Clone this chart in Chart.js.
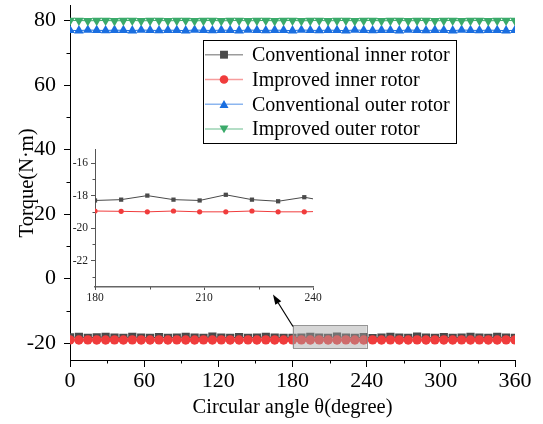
<!DOCTYPE html>
<html>
<head>
<meta charset="utf-8">
<script src="https://cdn.jsdelivr.net/npm/chart.js@4/dist/chart.umd.min.js"></script>
<style>
  html, body { margin: 0; padding: 0; background: #fff; }
  #wrap { position: relative; width: 543px; height: 424px; }
  #main { position: absolute; left: 0; top: 0; }
  #inset { position: absolute; left: 40px; top: 140px; }
</style>
</head>
<body>
<div id="wrap">
  <canvas id="main" width="543" height="424"></canvas>
  <canvas id="inset" width="290" height="170"></canvas>
</div>
<script>
// ---------------- data ----------------
const angles = [0,7.2,14.4,21.6,28.8,36,43.2,50.4,57.6,64.8,72,79.2,86.4,93.6,100.8,108,115.2,122.4,129.6,136.8,144,151.2,158.4,165.6,172.8,180,187.2,194.4,201.6,208.8,216,223.2,230.4,237.6,244.8,252,259.2,266.4,273.6,280.8,288,295.2,302.4,309.6,316.8,324,331.2,338.4,345.6,352.8,360];

const convInner = [-18.2,-18.05,-18.3,-18.2,-18.0,-18.25,-18.3,-18.0,-18.25,-18.35,-18.1,-18.3,-18.25,-18.0,-18.25,-18.3,-17.95,-18.25,-18.35,-18.1,-18.3,-18.25,-18.0,-18.25,-18.3,
  -18.3,-18.25,-18.0,-18.25,-18.3,-17.95,-18.25,-18.35,-18.1,-18.4,
  -18.25,-18.0,-18.25,-18.3,-17.95,-18.25,-18.35,-18.1,-18.3,-18.25,-18.0,-18.25,-18.3,-18.05,-18.25,-18.3];

const impInner = [-18.97,-19.0,-18.95,-18.98,-19.0,-18.96,-19.0,-18.95,-18.98,-19.0,-18.96,-19.0,-18.95,-18.99,-19.0,-18.96,-19.0,-18.95,-18.98,-19.0,-18.96,-19.0,-18.95,-18.98,-19.0,
  -18.95,-18.97,-19.0,-18.95,-19.0,-19.0,-18.95,-19.0,-19.0,
  -18.96,-19.0,-18.95,-18.98,-19.0,-18.96,-19.0,-18.95,-18.98,-19.0,-18.96,-19.0,-18.95,-18.98,-19.0,-18.96,-18.97];

const convOuter = [77.0,76.9,77.1,77.0,76.95,77.05,77.0,76.9,77.1,77.0,76.95,77.05,77.0,76.9,77.1,77.0,76.95,77.05,77.0,76.9,77.1,77.0,76.95,77.05,77.0,
  76.9,77.1,77.0,76.95,77.05,77.0,76.9,77.1,77.0,76.95,77.05,77.0,76.9,77.1,77.0,76.95,77.05,77.0,76.9,77.1,77.0,76.95,77.05,77.0,76.9,77.0];

const impOuter = [80.0,80.05,79.95,80.0,80.05,79.95,80.0,80.05,79.95,80.0,80.05,79.95,80.0,80.05,79.95,80.0,80.05,79.95,80.0,80.05,79.95,80.0,80.05,79.95,80.0,
  80.05,79.95,80.0,80.05,79.95,80.0,80.05,79.95,80.0,80.05,79.95,80.0,80.05,79.95,80.0,80.05,79.95,80.0,80.05,79.95,80.0,80.05,79.95,80.0,80.05,80.0];

const seriesNames = ['Conventional inner rotor','Improved inner rotor','Conventional outer rotor','Improved outer rotor'];

const xTicks = [0,60,120,180,240,300,360];
const xMinorTicks = [30,90,150,210,270,330];
const yTicks = [-20,0,20,40,60,80];
const yMinorTicks = [-10,10,30,50,70];
const insetXTicks = [180,210,240];
const insetXMinorTicks = [195,225];
const insetYTicks = [-22,-20,-18,-16];
const insetYMinorTicks = [-23,-21,-19,-17];

const xTitle = 'Circular angle θ(degree)';
const yTitle = 'Torque(N·m)';

// ---------------- styles ----------------
const FONT = 'Liberation Serif, Times New Roman, serif';
const styles = [
  {color:'#4a4a4a', light:'rgba(74,74,74,0.55)', point:'rect', rot:0},
  {color:'#f03c3c', light:'rgba(240,60,60,0.5)', point:'circle', rot:0},
  {color:'#1a6ee0', light:'rgba(26,110,224,0.5)', point:'triangle', rot:0},
  {color:'#3aaa6a', light:'rgba(58,170,106,0.5)', point:'triangle', rot:180}
];
const seriesData = [convInner, impInner, convOuter, impOuter];
const mainRadius = [5.8, 4.7, 5.6, 5.6];
const orders = [4,3,2,1];

function pts(arr) { return angles.map((a,i)=>({x:a, y:arr[i]})); }

function drawMarker(ctx, style, x, y, r) {
  ctx.save();
  ctx.fillStyle = style.color;
  ctx.beginPath();
  if (style.point === 'rect') {
    const s = Math.SQRT1_2 * r;
    ctx.rect(x - s, y - s, 2*s, 2*s);
  } else if (style.point === 'circle') {
    ctx.arc(x, y, r, 0, Math.PI*2);
  } else {
    const sgn = style.rot === 180 ? -1 : 1;
    ctx.moveTo(x, y - sgn*r);
    ctx.lineTo(x + r*0.866, y + sgn*r*0.5);
    ctx.lineTo(x - r*0.866, y + sgn*r*0.5);
    ctx.closePath();
  }
  ctx.fill();
  ctx.restore();
}

function minorTickPlugin(id, xs, ys, len, color) {
  return {
    id: id,
    afterDraw(chart) {
      const ctx = chart.ctx;
      const xS = chart.scales.x, yS = chart.scales.y;
      ctx.save();
      ctx.strokeStyle = color;
      ctx.lineWidth = 1;
      ctx.beginPath();
      xs.forEach(v => {
        const px = Math.round(xS.getPixelForValue(v)) + 0.5;
        ctx.moveTo(px, xS.top);
        ctx.lineTo(px, xS.top + len);
      });
      ys.forEach(v => {
        const py = Math.round(yS.getPixelForValue(v)) + 0.5;
        ctx.moveTo(yS.right, py);
        ctx.lineTo(yS.right - len, py);
      });
      ctx.stroke();
      ctx.restore();
    }
  };
}

const overlayPlugin = {
  id: 'overlay',
  afterDatasetsDraw(chart) {
    const ctx = chart.ctx;
    const xS = chart.scales.x, yS = chart.scales.y;
    // zoom rectangle
    const x0 = xS.getPixelForValue(180), x1 = xS.getPixelForValue(240);
    const y0 = yS.getPixelForValue(-14.5), y1 = yS.getPixelForValue(-21.5);
    ctx.save();
    ctx.fillStyle = 'rgba(165,165,165,0.45)';
    ctx.fillRect(x0, y0, x1 - x0, y1 - y0);
    ctx.strokeStyle = 'rgba(140,140,140,0.9)';
    ctx.lineWidth = 1;
    ctx.strokeRect(Math.round(x0)+0.5, Math.round(y0)+0.5, Math.round(x1-x0), Math.round(y1-y0));
    // arrow
    const tx = xS.getPixelForValue(164.2), ty = yS.getPixelForValue(-4.9);
    const sx = x0 + 0.5, sy = y0 + 1;
    const ang = Math.atan2(ty - sy, tx - sx);
    const hl = 10, hw = 3.5;
    const bx = tx - hl*Math.cos(ang), by = ty - hl*Math.sin(ang);
    ctx.strokeStyle = '#000';
    ctx.lineWidth = 1.2;
    ctx.beginPath();
    ctx.moveTo(sx, sy);
    ctx.lineTo(bx, by);
    ctx.stroke();
    ctx.fillStyle = '#000';
    ctx.beginPath();
    ctx.moveTo(tx, ty);
    ctx.lineTo(bx + hw*Math.sin(ang), by - hw*Math.cos(ang));
    ctx.lineTo(bx - hw*Math.sin(ang), by + hw*Math.cos(ang));
    ctx.closePath();
    ctx.fill();
    ctx.restore();
  }
};

const legendPlugin = {
  id: 'customLegend',
  afterDraw(chart) {
    const ctx = chart.ctx;
    ctx.save();
    ctx.strokeStyle = '#000';
    ctx.lineWidth = 1;
    ctx.strokeRect(203.5, 40.5, 253, 103);
    const rows = [54.7, 79.5, 104.3, 129];
    ctx.font = '20px ' + FONT;
    ctx.textBaseline = 'middle';
    ctx.fillStyle = '#000';
    seriesNames.forEach((name, i) => {
      const y = rows[i];
      ctx.strokeStyle = styles[i].light;
      ctx.lineWidth = 1.5;
      ctx.beginPath();
      ctx.moveTo(205, y);
      ctx.lineTo(243, y);
      ctx.stroke();
      const r = i === 0 ? 5.6 : (i === 1 ? 4.3 : 5.2);
      drawMarker(ctx, styles[i], 224, y + (i >= 2 ? (styles[i].rot === 180 ? -1 : 1) * 1 : 0), r);
      ctx.fillStyle = '#000';
      ctx.fillText(name, 252, y + 1);
    });
    ctx.restore();
  }
};

// ---------------- main chart ----------------
const mainDatasets = seriesData.map((arr, i) => ({
  label: seriesNames[i],
  data: pts(arr),
  borderColor: styles[i].color,
  backgroundColor: styles[i].color,
  pointBackgroundColor: styles[i].color,
  pointBorderColor: styles[i].color,
  pointBorderWidth: 0,
  pointStyle: styles[i].point,
  pointRotation: styles[i].rot,
  pointRadius: mainRadius[i],
  borderWidth: 1,
  order: orders[i],
  tension: 0
}));

new Chart(document.getElementById('main'), {
  type: 'line',
  data: { datasets: mainDatasets },
  options: {
    responsive: false,
    animation: false,
    events: [],
    layout: { padding: { top: 3, right: 28, left: 0, bottom: 0 } },
    plugins: { legend: { display: false }, tooltip: { enabled: false } },
    scales: {
      x: {
        type: 'linear', min: 0, max: 360,
        afterBuildTicks: s => { s.ticks = xTicks.map(v => ({value: v})); },
        afterFit: s => { s.height = 64; s.paddingLeft = 0; s.paddingRight = 0; },
        grid: { drawOnChartArea: false, drawTicks: true, tickLength: 7, color: '#000', lineWidth: 1 },
        border: { display: true, color: '#000', width: 1 },
        ticks: { color: '#000', font: { family: FONT, size: 22 }, padding: 1, maxRotation: 0 },
        title: { display: true, text: xTitle, color: '#000', font: { family: FONT, size: 20.5 }, padding: { top: 0, bottom: 4 } }
      },
      y: {
        type: 'linear', min: -25.2, max: 84.6,
        afterBuildTicks: s => { s.ticks = yTicks.map(v => ({value: v})); },
        afterFit: s => { s.width = 70; s.paddingTop = 0; s.paddingBottom = 0; },
        grid: { drawOnChartArea: false, drawTicks: true, tickLength: 6, color: '#000', lineWidth: 1 },
        border: { display: true, color: '#000', width: 1 },
        ticks: { color: '#000', font: { family: FONT, size: 22 }, padding: 8 },
        title: { display: true, text: yTitle, color: '#000', font: { family: FONT, size: 20.5 }, padding: { top: 15, bottom: 0 } }
      }
    }
  },
  plugins: [minorTickPlugin('mainMinor', xMinorTicks, yMinorTicks, 3.5, '#000'), overlayPlugin, legendPlugin]
});

// ---------------- inset chart ----------------
const insetDatasets = [0, 1].map(i => ({
  label: seriesNames[i],
  data: pts(seriesData[i]),
  borderColor: styles[i].color,
  backgroundColor: styles[i].color,
  pointBackgroundColor: styles[i].color,
  pointBorderWidth: 0,
  pointStyle: styles[i].point,
  pointRadius: i === 0 ? 3.0 : 2.6,
  borderWidth: 1,
  order: orders[i],
  tension: 0
}));

new Chart(document.getElementById('inset'), {
  type: 'line',
  data: { datasets: insetDatasets },
  options: {
    responsive: false,
    animation: false,
    events: [],
    layout: { padding: { top: 9, right: 17, left: 0, bottom: 0 } },
    plugins: { legend: { display: false }, tooltip: { enabled: false } },
    scales: {
      x: {
        type: 'linear', min: 180, max: 240,
        afterBuildTicks: s => { s.ticks = insetXTicks.map(v => ({value: v})); },
        afterFit: s => { s.height = 23; s.paddingLeft = 0; s.paddingRight = 0; },
        grid: { drawOnChartArea: false, drawTicks: true, tickLength: 3, color: '#555', lineWidth: 1 },
        border: { display: true, color: '#666', width: 1.5 },
        ticks: { color: '#222', font: { family: FONT, size: 11.5 }, padding: 1, maxRotation: 0 }
      },
      y: {
        type: 'linear', min: -23.63, max: -15.13,
        afterBuildTicks: s => { s.ticks = insetYTicks.map(v => ({value: v})); },
        afterFit: s => { s.width = 55; s.paddingTop = 0; s.paddingBottom = 0; },
        grid: { drawOnChartArea: false, drawTicks: true, tickLength: 4, color: '#555', lineWidth: 1 },
        border: { display: true, color: '#555', width: 1 },
        ticks: { color: '#222', font: { family: FONT, size: 11.5 }, padding: 3 }
      }
    }
  },
  plugins: [minorTickPlugin('insetMinor', insetXMinorTicks, insetYMinorTicks, 2.5, '#555')]
});
</script>
</body>
</html>
